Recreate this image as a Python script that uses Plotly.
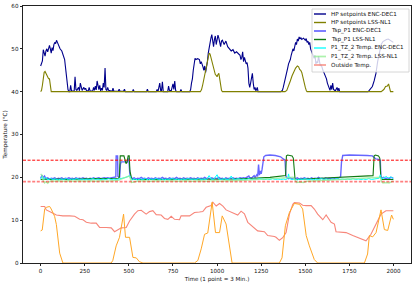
import plotly.graph_objects as go

# ---------------- data (time index, value) ----------------
hp_enc = [(0,46.0),(5,46.5),(10,47.2),(15,49.8),(20,49.0),(25,48.3),(30,49.5),(35,50.0),(40,49.3),(45,50.5),(50,50.8),(55,50.0),(60,49.0),(65,50.3),(70,49.6),(75,51.0),(80,51.5),(85,51.2),(90,52.0),(95,51.5),(100,50.8),(110,50.0),(120,49.5),(130,48.3),(136,47.5),(140,46.0),(145,44.0),(150,42.0),(155,40.5),(160,40.0),(165,40.0),(170,41.5),(175,40.2),(190,40.1),(195,43.5),(200,40.5),(205,40.3),(215,41.0),(220,40.2),(225,42.0),(230,41.0),(235,40.3),(245,41.0),(250,40.5),(255,40.8),(260,40.2),(270,40.2),(275,41.0),(280,40.2),(295,40.1),(300,41.0),(305,40.3),(310,41.3),(315,40.4),(320,42.5),(325,41.5),(330,40.5),(335,41.5),(340,40.2),(345,40.8),(350,40.3),(355,42.0),(360,41.0),(365,45.5),(370,40.5),(375,40.3),(380,41.0),(385,40.3),(405,40.1),(410,40.8),(415,40.1),(440,40.1),(445,40.6),(450,40.1),(470,40.1),(475,40.6),(480,40.0),(520,40.0),(525,40.5),(530,40.0),(600,40.0),(605,40.6),(610,40.0),(655,40.0),(660,40.5),(665,40.0),(675,42.0),(680,40.3),(685,40.2),(690,42.3),(695,40.0),(720,40.0),(725,41.3),(730,40.3),(740,40.2),(750,41.8),(755,40.5),(760,42.5),(765,40.3),(770,40.0),(790,40.0),(795,40.5),(800,40.0),(845,40.0),(850,40.5),(855,42.0),(860,43.0),(865,45.0),(870,47.0),(875,47.8),(880,47.5),(890,47.7),(900,47.5),(905,46.5),(910,47.0),(915,46.0),(920,45.8),(925,45.0),(930,46.0),(935,44.5),(940,45.5),(945,47.0),(950,49.0),(955,50.5),(960,51.0),(965,52.5),(970,53.3),(975,52.0),(980,50.5),(985,52.2),(990,53.0),(995,51.0),(1000,52.0),(1005,53.2),(1010,52.5),(1015,51.5),(1020,50.5),(1025,51.8),(1030,52.0),(1040,51.0),(1050,51.8),(1060,50.5),(1070,50.0),(1080,49.5),(1090,49.8),(1100,49.0),(1110,49.3),(1120,49.0),(1130,48.5),(1135,47.5),(1140,48.0),(1145,49.3),(1150,47.0),(1155,48.0),(1160,47.2),(1165,46.5),(1170,46.8),(1175,45.5),(1180,42.0),(1185,41.0),(1190,42.0),(1195,43.5),(1200,44.3),(1205,42.0),(1210,40.5),(1215,41.0),(1220,40.2),(1228,41.0),(1232,40.0),(1360,40.0),(1370,40.3),(1375,41.0),(1380,41.8),(1385,42.5),(1390,43.5),(1395,44.5),(1400,45.5),(1405,46.5),(1410,47.0),(1415,47.5),(1420,48.5),(1425,49.5),(1430,50.0),(1435,49.5),(1440,51.0),(1445,51.5),(1450,51.0),(1455,52.3),(1460,51.8),(1465,52.8),(1470,52.3),(1475,52.6),(1480,52.2),(1490,52.5),(1500,52.0),(1505,52.4),(1510,51.5),(1515,51.8),(1520,51.0),(1525,51.5),(1530,50.0),(1535,49.5),(1540,49.0),(1545,48.5),(1550,47.8),(1555,48.5),(1560,46.5),(1565,47.0),(1570,46.7),(1575,48.3),(1580,46.8),(1585,46.0),(1590,46.3),(1595,45.3),(1600,45.0),(1605,44.5),(1610,44.0),(1615,43.5),(1620,43.0),(1625,42.0),(1630,41.5),(1635,40.8),(1640,40.3),(1645,41.5),(1650,40.5),(1655,42.0),(1660,40.5),(1670,40.2),(1680,41.0),(1685,40.2),(1690,40.8),(1695,40.0),(1855,40.0),(1860,40.2),(1870,40.6),(1880,41.2),(1890,42.5),(1900,44.2),(1910,47.0),(1920,49.4),(1930,51.0),(1940,51.7),(1950,52.0),(1960,52.2),(1970,52.3),(1980,52.0),(1990,51.8),(1999,51.5)]

hp_lss = [(0,40.0),(5,40.3),(10,41.5),(15,43.0),(20,44.5),(25,44.7),(30,44.3),(35,43.8),(40,43.5),(45,43.0),(50,43.0),(55,41.0),(60,40.0),(905,40.0),(912,40.5),(918,41.5),(925,43.0),(932,44.5),(940,46.0),(948,48.0),(955,49.0),(960,48.8),(965,48.0),(970,47.0),(975,46.0),(980,45.3),(985,44.3),(990,44.0),(995,43.8),(1000,43.5),(1005,44.0),(1010,44.3),(1015,43.0),(1020,41.5),(1025,40.3),(1030,40.0),(1385,40.0),(1395,40.3),(1405,41.2),(1415,42.5),(1425,43.7),(1435,44.8),(1445,45.5),(1455,46.0),(1462,45.8),(1468,45.2),(1474,45.0),(1480,44.5),(1487,43.0),(1493,42.0),(1500,41.0),(1506,40.2),(1510,40.0),(1930,40.0),(1945,40.5),(1955,41.2),(1965,41.3),(1972,41.8),(1978,41.0),(1983,40.0),(1999,40.0)]

tsp_enc = [(0,19.8),(8,20.5),(15,19.9),(22,20.3),(30,19.7),(40,19.9),(50,19.6),(60,19.8),(70,19.7),(80,19.9),(90,19.6),(100,19.8),(110,19.7),(120,19.9),(130,19.6),(140,19.8),(150,19.7),(160,19.9),(170,19.7),(180,19.8),(190,19.6),(200,19.9),(210,19.7),(220,19.8),(230,19.7),(240,19.9),(250,19.7),(260,19.8),(270,19.6),(280,19.8),(290,19.7),(300,19.9),(310,19.7),(320,19.8),(330,19.9),(340,19.7),(350,19.8),(360,19.9),(370,19.8),(380,19.9),(390,19.8),(400,19.9),(410,20.0),(420,20.1),(426,20.1),(428,25.0),(436,25.0),(438,20.2),(448,20.1),(452,23.0),(456,23.6),(480,23.6),(490,23.5),(495,24.2),(500,24.3),(505,21.0),(510,20.0),(520,19.7),(530,19.9),(540,19.6),(550,19.8),(560,19.7),(570,20.0),(580,19.7),(590,19.8),(600,19.6),(610,19.9),(620,19.7),(630,19.8),(640,19.6),(650,19.9),(660,19.7),(670,19.8),(680,19.7),(690,20.0),(700,19.7),(710,19.8),(720,19.6),(730,19.9),(740,19.7),(750,19.8),(760,19.7),(770,20.0),(780,19.7),(790,19.8),(800,19.6),(810,19.9),(820,19.7),(830,19.8),(840,19.7),(850,19.9),(860,19.7),(870,19.8),(880,19.6),(890,19.9),(900,19.7),(910,19.8),(920,19.7),(930,20.0),(940,19.7),(950,19.8),(960,19.6),(970,19.9),(980,19.7),(990,19.8),(1000,19.7),(1010,20.0),(1020,19.7),(1030,19.8),(1040,19.6),(1050,19.9),(1060,19.7),(1070,19.8),(1080,19.7),(1090,19.9),(1100,19.7),(1110,19.8),(1120,19.7),(1130,19.9),(1140,19.8),(1150,19.9),(1160,19.8),(1170,20.0),(1180,20.3),(1185,19.9),(1200,20.0),(1210,20.4),(1215,20.0),(1225,20.6),(1230,20.2),(1235,23.0),(1240,20.5),(1245,21.5),(1250,20.8),(1255,21.9),(1260,24.2),(1265,24.8),(1275,25.1),(1300,25.2),(1330,25.1),(1350,25.0),(1360,24.8),(1375,24.3),(1385,24.0),(1390,20.3),(1395,19.9),(1405,19.7),(1415,19.9),(1425,19.6),(1435,19.8),(1445,19.7),(1455,19.9),(1465,19.6),(1475,19.8),(1485,19.7),(1495,19.9),(1505,19.7),(1515,19.8),(1525,19.6),(1535,19.9),(1545,19.7),(1555,19.8),(1565,19.7),(1575,20.0),(1585,19.7),(1595,19.8),(1605,19.6),(1615,19.9),(1625,19.7),(1635,19.8),(1645,19.7),(1655,19.9),(1665,19.8),(1675,19.9),(1685,19.8),(1695,20.0),(1700,20.1),(1705,23.5),(1712,25.1),(1750,25.2),(1800,25.2),(1850,25.1),(1880,25.0),(1890,24.6),(1900,24.3),(1915,24.2),(1925,24.0),(1928,20.3),(1935,19.8),(1945,20.0),(1955,19.7),(1965,19.9),(1975,19.7),(1985,20.0),(1999,19.8)]

tsp_lss = [(0,19.5),(30,19.6),(60,19.5),(100,19.6),(150,19.5),(200,19.6),(250,19.6),(300,19.7),(350,19.7),(400,19.8),(440,19.8),(446,20.0),(451,25.0),(472,25.0),(478,23.8),(484,23.2),(490,23.6),(496,25.0),(502,25.0),(506,21.5),(515,19.8),(520,19.5),(600,19.5),(700,19.5),(800,19.5),(900,19.5),(1000,19.5),(1100,19.6),(1200,19.8),(1300,20.0),(1388,20.4),(1393,25.0),(1400,25.2),(1425,25.0),(1432,24.5),(1437,20.5),(1442,19.5),(1500,19.6),(1600,19.8),(1700,20.0),(1800,20.2),(1884,20.4),(1890,25.0),(1897,25.2),(1915,25.0),(1922,24.5),(1928,20.0),(1935,19.5),(1999,19.5)]

p1_enc = [(0,19.6),(10,20.3),(20,19.5),(30,20.0),(40,19.4),(55,19.7),(70,19.5),(85,19.6),(100,19.4),(115,19.6),(130,19.5),(145,19.7),(160,19.4),(175,19.6),(190,19.5),(205,19.7),(220,19.5),(235,19.6),(250,19.4),(265,19.6),(280,19.5),(295,19.7),(310,19.5),(325,19.6),(340,19.5),(355,19.6),(370,19.5),(385,19.7),(400,19.5),(415,19.6),(430,19.5),(445,19.6),(460,19.7),(475,19.9),(490,20.1),(500,20.3),(505,20.4),(512,19.8),(520,19.4),(535,19.6),(550,19.4),(565,19.6),(580,19.5),(595,19.7),(610,19.4),(625,19.6),(640,19.5),(655,19.7),(670,19.5),(685,19.6),(700,19.4),(715,19.6),(730,19.5),(745,19.7),(760,19.5),(775,19.6),(790,19.4),(805,19.6),(820,19.5),(835,19.7),(850,19.5),(865,19.6),(880,19.5),(895,19.7),(910,19.5),(925,19.6),(940,19.5),(955,20.4),(965,19.6),(980,19.5),(1000,20.6),(1010,19.6),(1025,19.5),(1040,19.7),(1055,19.5),(1070,19.6),(1080,20.3),(1090,19.6),(1105,19.5),(1120,19.7),(1135,19.5),(1150,19.6),(1165,19.5),(1180,19.7),(1195,19.5),(1210,19.6),(1225,19.5),(1240,19.7),(1255,19.6),(1270,19.5),(1285,19.6),(1300,19.5),(1315,19.7),(1330,19.5),(1345,19.6),(1360,19.5),(1375,19.6),(1390,19.5),(1400,19.7),(1405,20.8),(1410,19.7),(1425,19.5),(1440,19.6),(1455,19.4),(1470,19.6),(1485,19.5),(1500,19.7),(1515,19.5),(1530,19.6),(1545,19.4),(1560,19.6),(1575,19.5),(1590,19.7),(1605,19.5),(1620,19.6),(1635,19.4),(1650,19.6),(1665,19.5),(1680,19.7),(1695,19.5),(1710,19.6),(1725,19.5),(1740,19.6),(1755,19.5),(1770,19.7),(1785,19.5),(1800,19.6),(1815,19.5),(1830,19.6),(1845,19.5),(1860,19.7),(1875,19.5),(1890,19.6),(1905,19.7),(1918,19.8),(1925,20.6),(1932,19.6),(1945,19.9),(1960,20.2),(1970,19.8),(1985,20.1),(1999,19.7)]

p1_lss = [(0,20.8),(8,20.5),(15,19.2),(22,18.7),(30,19.0),(40,18.6),(50,19.0),(60,19.2),(80,19.1),(100,19.2),(130,19.1),(160,19.2),(190,19.1),(220,19.2),(250,19.1),(280,19.2),(310,19.1),(340,19.2),(370,19.1),(400,19.2),(440,19.3),(470,19.8),(500,20.3),(506,20.0),(515,18.8),(530,18.9),(545,19.1),(580,19.2),(620,19.1),(660,19.2),(700,19.1),(740,19.2),(780,19.1),(820,19.2),(860,19.1),(900,19.2),(940,19.1),(980,19.2),(1020,19.1),(1060,19.2),(1100,19.2),(1200,19.4),(1300,19.6),(1390,19.9),(1430,20.0),(1440,19.5),(1450,18.8),(1470,18.9),(1490,18.8),(1510,19.1),(1600,19.3),(1700,19.5),(1800,19.7),(1880,19.8),(1925,20.0),(1932,19.0),(1940,18.7),(1960,18.8),(1975,18.7),(1990,19.0),(1999,19.1)]

outside = [(0,13.2),(23,13.2),(32,12.4),(50,12.1),(70,11.6),(89,11.2),(126,11.0),(164,11.0),(193,10.9),(221,10.2),(240,10.1),(259,9.5),(287,9.3),(315,9.3),(334,8.3),(372,8.3),(400,8.2),(419,7.3),(438,7.7),(457,8.2),(485,8.3),(504,9.8),(532,11.4),(551,12.2),(570,12.3),(598,11.4),(617,12.0),(636,12.2),(655,11.3),(683,11.2),(702,10.4),(721,10.2),(740,10.9),(759,10.2),(787,10.1),(796,11.0),(844,11.0),(872,11.8),(900,11.9),(919,12.0),(938,13.0),(966,13.4),(976,14.2),(995,13.3),(1014,13.9),(1033,13.3),(1051,12.4),(1080,11.9),(1108,11.3),(1117,11.2),(1136,12.1),(1155,11.5),(1174,9.5),(1193,8.8),(1212,8.3),(1230,7.5),(1268,7.3),(1287,6.4),(1325,6.2),(1334,6.0),(1353,5.3),(1372,5.9),(1391,7.1),(1410,11.4),(1429,13.7),(1438,14.1),(1467,14.0),(1485,13.5),(1505,13.4),(1533,13.4),(1551,12.6),(1570,11.4),(1599,10.1),(1618,11.2),(1646,9.5),(1665,9.1),(1674,7.3),(1731,7.1),(1769,6.4),(1825,5.6),(1844,5.2),(1872,6.7),(1901,9.1),(1929,11.4),(1957,12.2),(1999,12.2)]

orange_series = [(0,7.5),(9,7.7),(23,12.6),(32,13.0),(51,13.2),(60,12.6),(79,10.9),(89,9.0),(108,2.3),(126,0.0),(400,0.0),(409,0.6),(428,4.0),(447,6.0),(470,11.4),(481,6.0),(504,6.0),(523,1.3),(542,1.2),(560,0.3),(580,0.0),(872,0.0),(891,0.6),(910,3.3),(929,6.7),(947,7.0),(972,14.2),(991,7.1),(1014,7.1),(1029,11.0),(1051,9.1),(1070,3.3),(1085,0.0),(1353,0.0),(1368,1.2),(1387,8.7),(1410,11.8),(1438,13.9),(1467,13.7),(1485,12.6),(1505,6.4),(1523,4.0),(1551,0.8),(1570,0.0),(1835,0.0),(1853,2.1),(1863,6.4),(1882,6.1),(1901,7.1),(1929,12.4),(1948,7.8),(1967,7.6),(1989,11.2),(1999,10.2)]

comfort_limits = [24, 19]
x_ticks = [0, 250, 500, 750, 1000, 1250, 1500, 1750, 2000]
y_ticks = [0, 10, 20, 30, 40, 50, 60]

# ---------------- styling ----------------
FONT = "DejaVu Sans"
W, H = 416, 285
PL, PR, PT, PB = 23, 411, 6, 263   # plot area in pixels

series = [
    ("HP setpoints ENC-DEC1", hp_enc, "#00008b", 1.1),
    ("HP setpoints LSS-NL1", hp_lss, "#808000", 1.1),
    ("Tsp_P1 ENC-DEC1", tsp_enc, "rgba(0,0,255,0.6)", 1.4),
    ("Tsp_P1 LSS-NL1", tsp_lss, "#127a12", 1.1),
    ("P1_TZ_2 Temp. ENC-DEC1", p1_enc, "#00ffff", 1.0),
    ("P1_TZ_2 Temp. LSS-NL1", p1_lss, "rgba(144,238,144,0.75)", 1.4),
    ("Outside Temp.", outside, "#f7867a", 1.1),
]

fig = go.Figure()
for name, pairs, color, width in series:
    fig.add_trace(go.Scatter(x=[p[0] for p in pairs], y=[p[1] for p in pairs],
                             mode="lines", name=name, showlegend=False,
                             line=dict(color=color, width=width)))
fig.add_trace(go.Scatter(x=[p[0] for p in orange_series], y=[p[1] for p in orange_series],
                         mode="lines", name="", showlegend=False,
                         line=dict(color="#ffa726", width=1.0)))

shapes = []
shapes.append(dict(type="line", xref="paper", yref="y", x0=0, x1=1,
                   y0=comfort_limits[0], y1=comfort_limits[0],
                   line=dict(color="red", width=1, dash="3px,1.6px")))
shapes.append(dict(type="line", xref="paper", yref="y", x0=0, x1=1,
                   y0=comfort_limits[1], y1=comfort_limits[1],
                   line=dict(color="rgba(255,0,0,0.5)", width=1.8, dash="3px,1.6px")))

def px_x(px):
    return (px - PL) / (PR - PL)

def px_y(py):
    return (PB - py) / (PB - PT)

# legend box (drawn manually to match compact matplotlib legend)
shapes.append(dict(type="rect", xref="paper", yref="paper",
                   x0=px_x(312), x1=px_x(409), y0=px_y(72), y1=px_y(9),
                   fillcolor="rgba(255,255,255,0.8)", line=dict(color="#cccccc", width=0.8),
                   layer="above"))
annotations = []
for i, (name, _, color, width) in enumerate(series):
    yc = 14 + 8.5 * i
    shapes.append(dict(type="line", xref="paper", yref="paper",
                       x0=px_x(314), x1=px_x(326), y0=px_y(yc), y1=px_y(yc),
                       line=dict(color=color, width=width + 0.3), layer="above"))
    annotations.append(dict(xref="paper", yref="paper", x=px_x(329), y=px_y(yc),
                            xanchor="left", yanchor="middle", text=name, showarrow=False,
                            font=dict(family=FONT, size=5.6, color="#111")))

fig.update_layout(
    width=W, height=H,
    margin=dict(l=PL, r=W - PR, t=PT, b=H - PB, autoexpand=False),
    paper_bgcolor="white", plot_bgcolor="white",
    font=dict(family=FONT, size=5.6, color="#111"),
    showlegend=False,
    shapes=shapes, annotations=annotations,
)
fig.update_xaxes(range=[-100, 2099], tickvals=x_ticks, ticktext=[str(v) for v in x_ticks],
                 automargin=False,
                 showgrid=False, zeroline=False, showline=True, linecolor="#222", linewidth=0.8,
                 mirror=True, ticks="outside", ticklen=2.5, tickwidth=0.7, tickcolor="#222",
                 tickfont=dict(size=5.6), title=dict(text="Time (1 point = 3 Min.)",
                 font=dict(size=5.6), standoff=3))
fig.update_yaxes(range=[0, 60], tickvals=y_ticks, ticktext=[str(v) for v in y_ticks],
                 automargin=False,
                 showgrid=False, zeroline=False, showline=True, linecolor="#222", linewidth=0.8,
                 mirror=True, ticks="outside", ticklen=2.5, tickwidth=0.7, tickcolor="#222",
                 tickfont=dict(size=5.6), title=dict(text="Temperature (°C)",
                 font=dict(size=5.6), standoff=3))

fig.write_html("out.html", config={"displayModeBar": False},
               post_script="document.body.style.margin='0px';document.body.style.padding='0px';")
